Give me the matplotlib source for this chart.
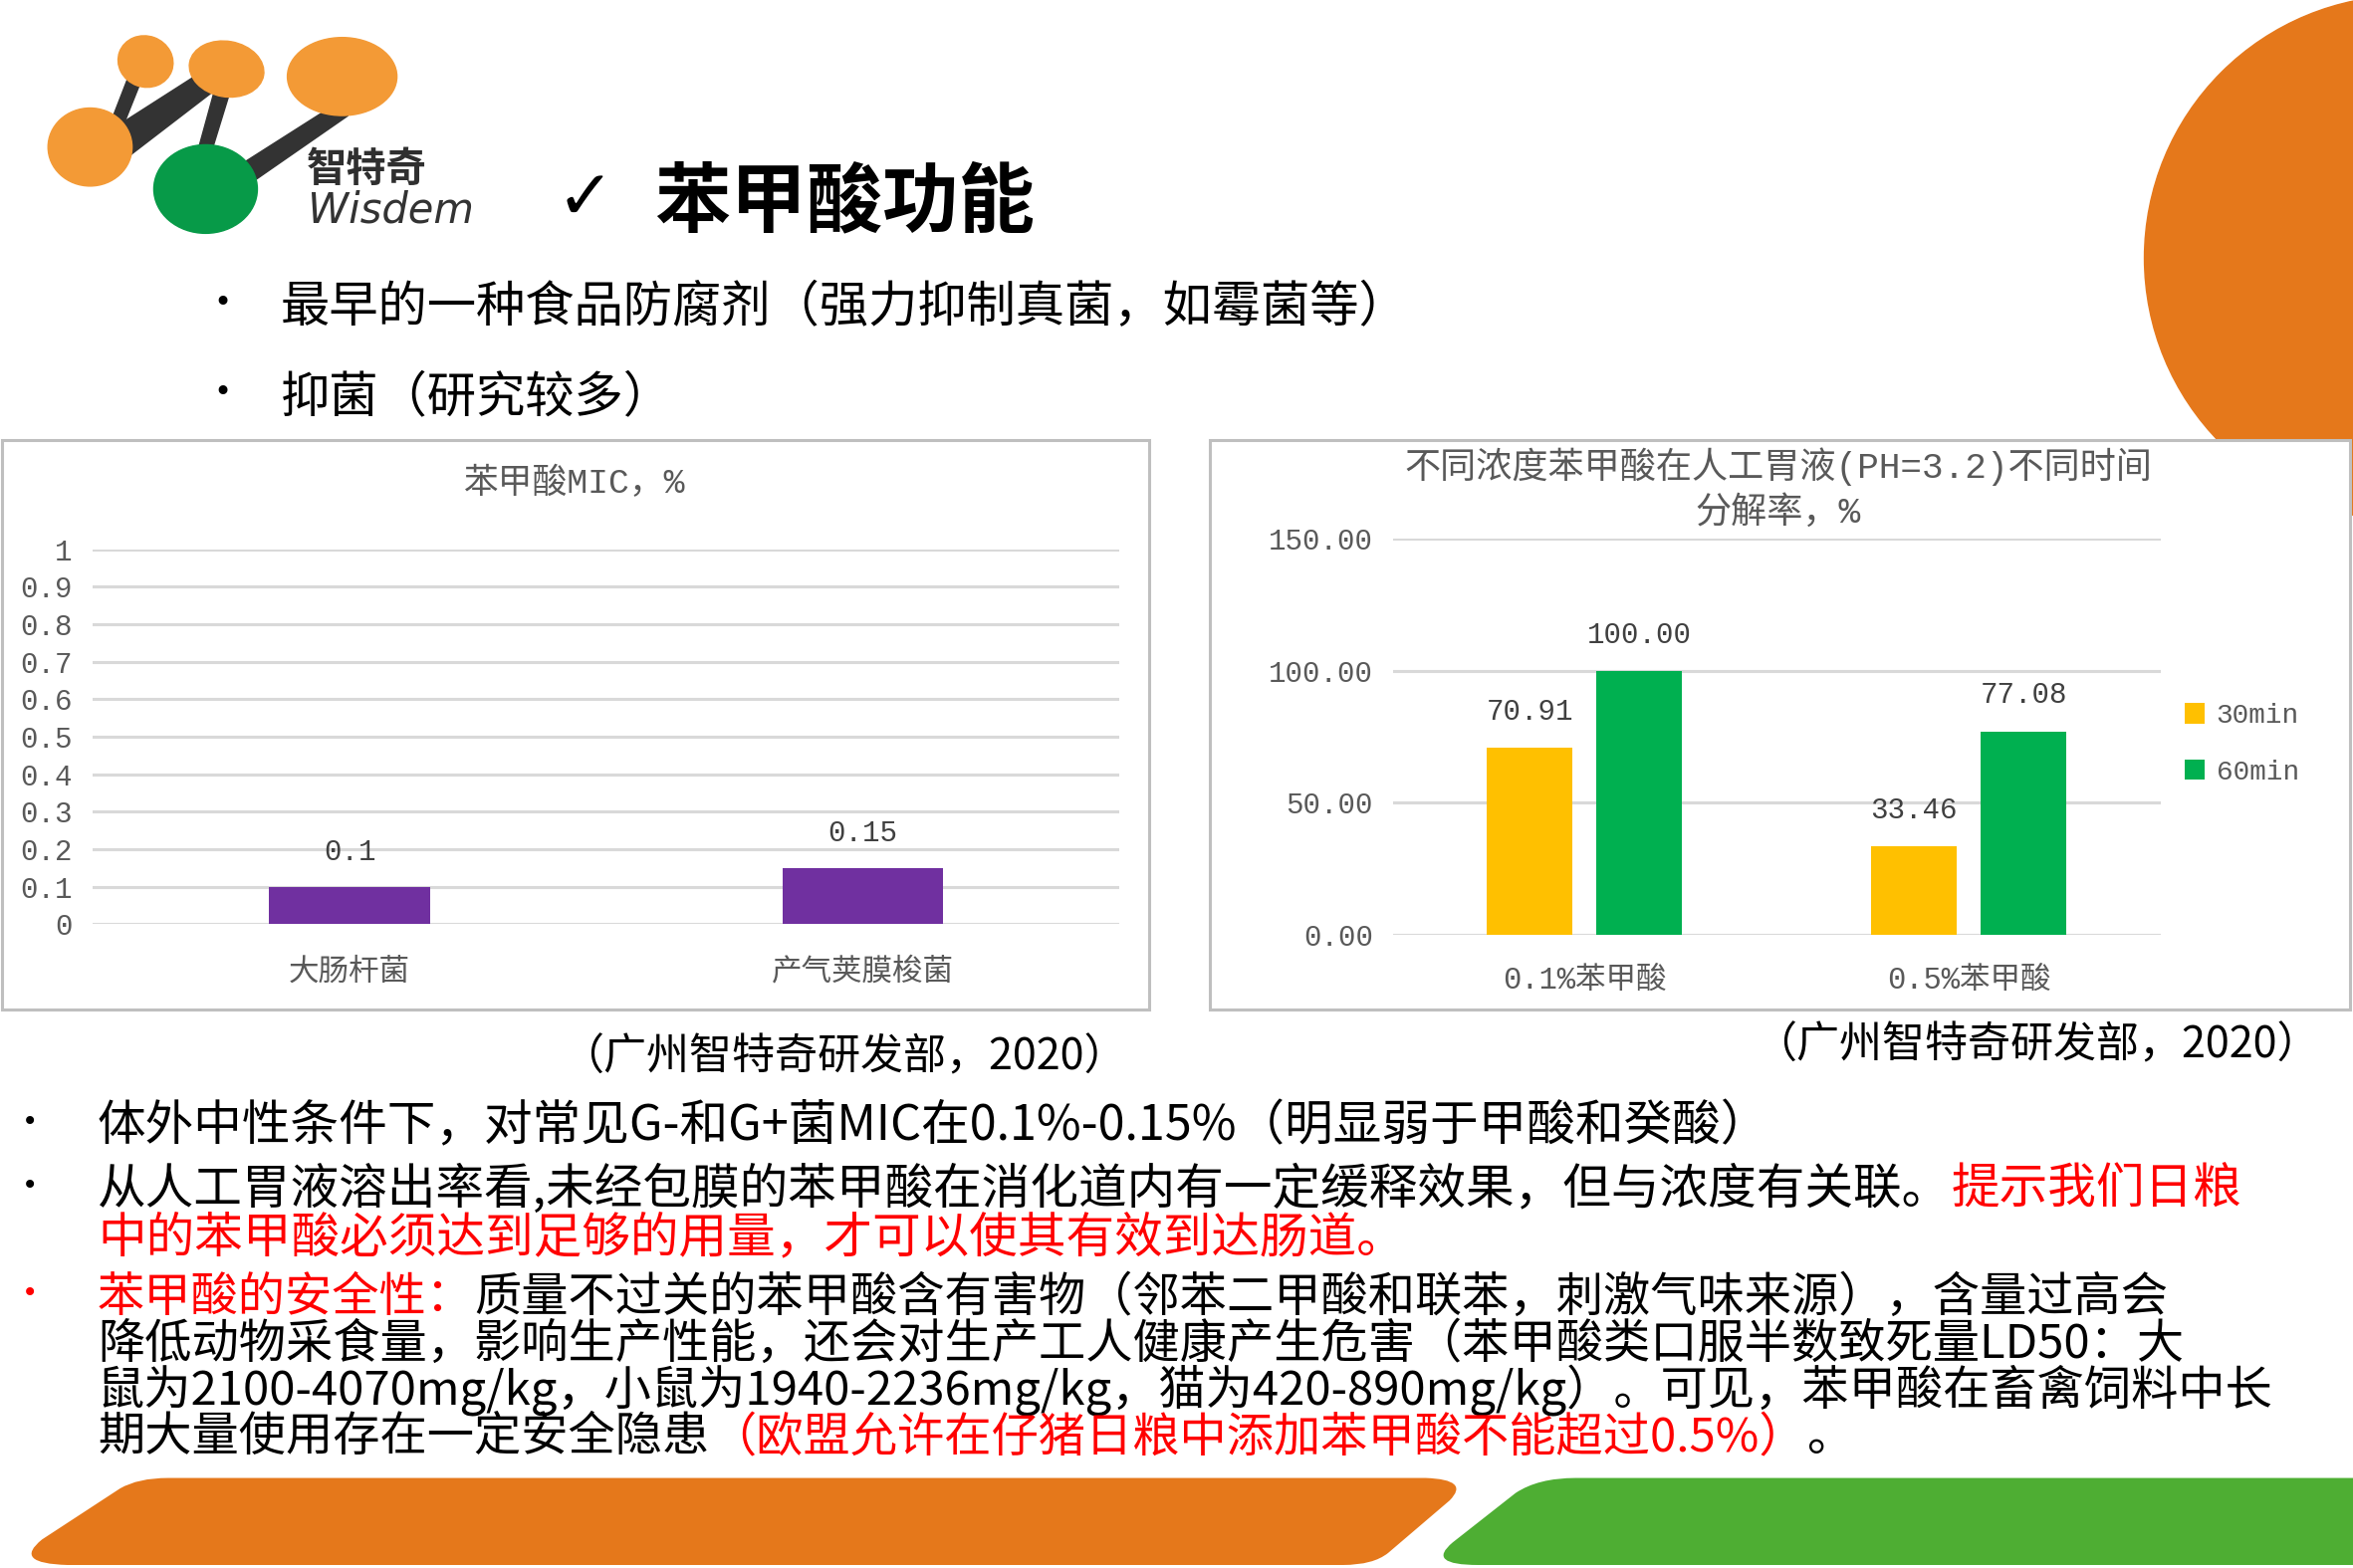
import matplotlib
matplotlib.use('Agg')
import matplotlib.pyplot as plt
import numpy as np
from matplotlib.patches import Ellipse, Circle, Rectangle, Polygon, PathPatch
from matplotlib.path import Path
from matplotlib.font_manager import FontProperties

'''
1.Data
'''
mic_names = ['大肠杆菌', '产气荚膜梭菌']
mic_values = [0.1, 0.15]
mic_ticks = [0, 0.1, 0.2, 0.3, 0.4, 0.5, 0.6, 0.7, 0.8, 0.9, 1]
mic_tick_labels = ['0', '0.1', '0.2', '0.3', '0.4', '0.5', '0.6', '0.7', '0.8', '0.9', '1']

acid_groups = ['0.1%苯甲酸', '0.5%苯甲酸']
rate_30min = [70.91, 33.46]
rate_60min = [100.00, 77.08]
time_labels = ['30min', '60min']
rate_ticks = [0, 50, 100, 150]
rate_tick_labels = ['0.00', '50.00', '100.00', '150.00']

CJK = ['Noto Sans CJK SC', 'DejaVu Sans']
MONO = ['Liberation Mono', 'Noto Sans CJK SC', 'DejaVu Sans']
GREY = '#595959'
RED = '#FF0000'
ORANGE = '#E5781B'
LOGO_ORANGE = '#F39A36'

plt.rcParams['font.family'] = CJK

# slide is laid out in a 1568 x 1045 grid
W, H = 1568, 1045
PT = 2363 / W * 72 / 100   # points per grid unit

fig = plt.figure(figsize=(23.63, 15.75), dpi=100)
bg = fig.add_axes([0, 0, 1, 1])
bg.set_xlim(0, W)
bg.set_ylim(H, 0)
bg.axis('off')


def fx(x):
    return x / W


def fy(y):
    return 1 - y / H


def put_line(x, yc, parts, size, weight='normal'):
    # several colours on one line, placed one after the other
    em = size / PT
    yb = yc + 0.38 * em
    r = fig.canvas.get_renderer()
    for s, c in parts:
        t = bg.text(x, yb, s, fontsize=size, color=c, ha='left', va='baseline',
                    family=CJK, weight=weight, zorder=5)
        bb = t.get_window_extent(renderer=r)
        x = bg.transData.inverted().transform((bb.x1, bb.y0))[0]


'''
2.Decorations: logo, big circle, bottom bands
'''
bg.add_patch(Circle((1604, 172), 175, color=ORANGE, zorder=1))

for pts in [[(86, 50), (94, 54), (82, 84), (74, 81)],
            [(78, 84), (128, 52), (142, 61), (86, 104)],
            [(143, 60), (153, 62), (141, 101), (132, 100)],
            [(163, 108), (218, 73), (232, 77), (170, 120)]]:
    bg.add_patch(Polygon(pts, closed=True, color='#333333', zorder=2))
for (cx, cy, w, h, a) in [(97, 41, 37, 34, 20), (151, 46, 50, 37, 10),
                          (228, 51, 73, 52, 0), (60, 98, 56, 52, 0)]:
    bg.add_patch(Ellipse((cx, cy), w, h, angle=a, color=LOGO_ORANGE, zorder=3))
bg.add_patch(Ellipse((137, 126), 69, 59, color='#079A48', zorder=3))
bg.text(204, 113, '智特奇', fontsize=29, weight='bold', color='#2f2f2f',
        ha='left', va='center', family=CJK)
bg.text(205, 148, 'Wisdem', fontsize=30, style='italic', color='#333333',
        ha='left', va='baseline', family=['DejaVu Sans'])

orange_band = Path([(45, 1043), (8, 1042), (28, 1026), (80, 992), (92, 985), (112, 985),
                    (950, 985), (980, 986), (966, 1000), (925, 1035), (915, 1043),
                    (895, 1043), (45, 1043)],
                   [Path.MOVETO, Path.CURVE3, Path.CURVE3, Path.LINETO, Path.CURVE3,
                    Path.CURVE3, Path.LINETO, Path.CURVE3, Path.CURVE3, Path.LINETO,
                    Path.CURVE3, Path.CURVE3, Path.CLOSEPOLY])
bg.add_patch(PathPatch(orange_band, facecolor=ORANGE, edgecolor='none', zorder=1))
green_band = Path([(985, 1043), (950, 1043), (968, 1028), (1010, 995), (1025, 985),
                   (1050, 985), (1568, 985), (1568, 1043), (985, 1043)],
                  [Path.MOVETO, Path.CURVE3, Path.CURVE3, Path.LINETO, Path.CURVE3,
                   Path.CURVE3, Path.LINETO, Path.LINETO, Path.CLOSEPOLY])
bg.add_patch(PathPatch(green_band, facecolor='#4EAE33', edgecolor='none', zorder=1))

'''
3.Title and top bullets
'''
bg.text(390, 133, '✓', fontsize=50, ha='center', va='center', family=['DejaVu Sans'])
bg.text(436, 135, '苯甲酸功能', fontsize=55, weight='bold', ha='left', va='center')

for yc, s in [(202, '最早的一种食品防腐剂（强力抑制真菌，如霉菌等）'), (262, '抑菌（研究较多）')]:
    bg.text(148, yc, '•', fontsize=22, ha='center', va='center', family=['DejaVu Sans'])
    put_line(187, yc, [(s, 'black')], 35.5)

'''
4.Left chart: MIC
'''
bg.add_patch(Rectangle((1, 293), 765, 380, facecolor='white', edgecolor='#BFBFBF', lw=2.2, zorder=2))
bg.text(383, 322, '苯甲酸MIC，%', fontsize=25, color=GREY, ha='center', va='center', family=MONO, zorder=3)

axL = fig.add_axes([fx(62), fy(616), (746 - 62) / W, (616 - 366) / H])
axL.patch.set_alpha(0)
barsL = axL.bar(range(len(mic_names)), mic_values, width=0.313, color='#7030A0', zorder=3)
for b, v in zip(barsL, mic_values):
    axL.annotate('%g' % v, (b.get_x() + b.get_width() / 2, v), xytext=(0, 25),
                 textcoords='offset points', ha='center', va='center',
                 fontsize=21, color='#404040', family=MONO)
axL.set_xlim(-0.5, 1.5)
axL.set_ylim(0, 1)
axL.set_yticks(mic_ticks)
axL.set_yticklabels(mic_tick_labels, family=MONO)
axL.set_xticks(range(len(mic_names)))
axL.set_xticklabels(mic_names, family=CJK, fontsize=22)
axL.grid(axis='y', color='#D9D9D9', lw=2.2)
axL.set_axisbelow(True)
for sp in axL.spines.values():
    sp.set_visible(False)
axL.tick_params(axis='y', length=0, labelsize=21, labelcolor=GREY, pad=15)
axL.tick_params(axis='x', length=0, labelcolor=GREY, pad=23)

'''
5.Right chart: decomposition rate
'''
bg.add_patch(Rectangle((806, 293), 760, 380, facecolor='white', edgecolor='#BFBFBF', lw=2.2, zorder=2))
bg.text(1185, 311, '不同浓度苯甲酸在人工胃液(PH=3.2)不同时间', fontsize=26, color=GREY,
        ha='center', va='center', family=MONO, zorder=3)
bg.text(1185, 342, '分解率，%', fontsize=26, color=GREY, ha='center', va='center', family=MONO, zorder=3)

axR = fig.add_axes([fx(928), fy(623), (1440 - 928) / W, (623 - 359) / H])
axR.patch.set_alpha(0)
x = np.arange(len(acid_groups))
b30 = axR.bar(x - 0.1426, rate_30min, width=0.2227, color='#FFC000', zorder=3, label=time_labels[0])
b60 = axR.bar(x + 0.1426, rate_60min, width=0.2227, color='#00B050', zorder=3, label=time_labels[1])
for bars, vals in [(b30, rate_30min), (b60, rate_60min)]:
    for b, v in zip(bars, vals):
        axR.annotate('%.2f' % v, (b.get_x() + b.get_width() / 2, v), xytext=(0, 26),
                     textcoords='offset points', ha='center', va='center',
                     fontsize=21, color='#404040', family=MONO)
axR.set_xlim(-0.5, 1.5)
axR.set_ylim(0, 150)
axR.set_yticks(rate_ticks)
axR.set_yticklabels(rate_tick_labels, family=MONO)
axR.set_xticks(x)
axR.set_xticklabels(acid_groups, family=MONO, fontsize=22)
axR.grid(axis='y', color='#D9D9D9', lw=2.2)
axR.set_axisbelow(True)
for sp in axR.spines.values():
    sp.set_visible(False)
axR.tick_params(axis='y', length=0, labelsize=21, labelcolor=GREY, pad=14)
axR.tick_params(axis='x', length=0, labelcolor=GREY, pad=22)
leg = axR.legend(loc='upper left', bbox_to_anchor=(fx(1439), fy(452)), bbox_transform=fig.transFigure,
                 frameon=False, handlelength=0.75, handleheight=0.75, handletextpad=0.4,
                 labelspacing=1.1, prop=FontProperties(family=MONO, size=20))
for t in leg.get_texts():
    t.set_color(GREY)

'''
6.Sources and body text
'''
bg.text(562, 705, '（广州智特奇研发部，2020）', fontsize=31, ha='center', va='center')
bg.text(1357, 697, '（广州智特奇研发部，2020）', fontsize=31, ha='center', va='center')

bg.text(20, 748, '•', fontsize=20, ha='center', va='center', family=['DejaVu Sans'])
put_line(65, 748, [('体外中性条件下，对常见G-和G+菌MIC在0.1%-0.15%（明显弱于甲酸和癸酸）', 'black')], 35)
bg.text(20, 790, '•', fontsize=20, ha='center', va='center', family=['DejaVu Sans'])
put_line(65, 790, [('从人工胃液溶出率看,未经包膜的苯甲酸在消化道内有一定缓释效果，但与浓度有关联。', 'black'),
                   ('提示我们日粮', RED)], 35)
put_line(65, 822, [('中的苯甲酸必须达到足够的用量，才可以使其有效到达肠道。', RED)], 35)

body = 34
bg.text(20, 862, '•', fontsize=20, ha='center', va='center', color=RED, family=['DejaVu Sans'])
put_line(65, 862, [('苯甲酸的安全性：', RED),
                   ('质量不过关的苯甲酸含有害物（邻苯二甲酸和联苯，刺激气味来源），含量过高会', 'black')], body)
put_line(65, 893, [('降低动物采食量，影响生产性能，还会对生产工人健康产生危害（苯甲酸类口服半数致死量LD50：大', 'black')], body)
put_line(65, 924, [('鼠为2100-4070mg/kg，小鼠为1940-2236mg/kg，猫为420-890mg/kg）。可见，苯甲酸在畜禽饲料中长', 'black')], body)
put_line(65, 955, [('期大量使用存在一定安全隐患', 'black'),
                   ('（欧盟允许在仔猪日粮中添加苯甲酸不能超过0.5%）', RED), ('。', 'black')], body)

fig.savefig('out.png', dpi=100)
